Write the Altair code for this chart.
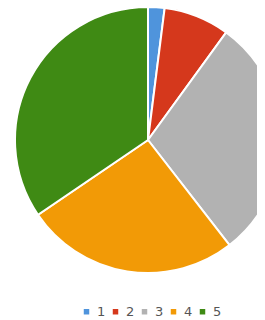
import altair as alt
import pandas as pd

categories = ["1", "2", "3", "4", "5"]
values = [2.0, 8.0, 29.5, 26.0, 34.5]
colors = ["#4f94dc", "#d5381c", "#b2b2b2", "#f29a06", "#3f8a14"]

df = pd.DataFrame({"cat": categories, "val": values, "order": list(range(len(categories)))})

chart = (
    alt.Chart(df)
    .mark_arc(stroke="white", strokeWidth=2)
    .encode(
        theta=alt.Theta("val:Q", stack=True),
        order=alt.Order("order:Q"),
        color=alt.Color(
            "cat:N",
            scale=alt.Scale(domain=categories, range=colors),
            legend=alt.Legend(
                title=None,
                orient="none",
                direction="horizontal",
                legendX=72,
                legendY=297,
                symbolType="square",
                symbolSize=30,
                symbolStrokeWidth=0,
                labelFontSize=13,
                labelColor="#555555",
                labelFont="DejaVu Sans",
                labelOffset=4,
                columnPadding=3,
            ),
        ),
        x=alt.value(140),
        y=alt.value(132),
        radius=alt.value(133),
    )
    .properties(width=249, height=310, autosize=alt.AutoSizeParams(type="none"), padding=0)
    .configure_view(stroke=None)
)

chart.save("out.html", embed_options={"renderer": "svg", "actions": False})
